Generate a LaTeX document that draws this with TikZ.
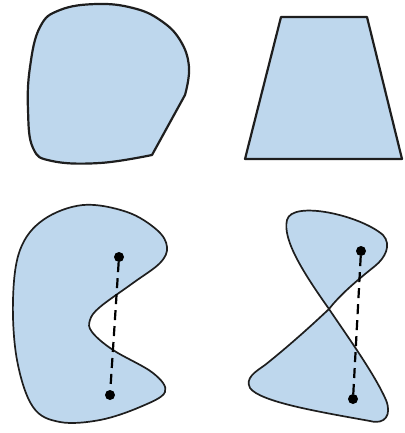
\documentclass[tikz,border=0pt]{standalone}
\usepackage{tikz}
\usetikzlibrary{positioning}

\definecolor{regionblue}{RGB}{190,215,237}
\definecolor{edgegray}{RGB}{30,30,30}

\begin{document}
\begin{tikzpicture}[
    x=1pt, y=-1pt,
    region/.style={fill=regionblue, draw=edgegray, line width=1.7pt, line join=round},
    thickregion/.style={region, line width=2.2pt},
    dot/.style={circle, fill=black, inner sep=0pt, minimum size=10pt},
    chord/.style={dash pattern=on 10pt off 6pt, line width=2.2pt, black}
]
\useasboundingbox (0,0) rectangle (404,433);

% Convex regions
\draw[thickregion] plot[smooth, tension=0.7] coordinates {(152,155) (100,163) (52,161) (33,148) (28,110) (30,67) (40,27) (60,10) (97,4) (133,8) (160,20) (180,40) (189,67) (185,95)} -- cycle;
\draw[thickregion] (281,17) -- (367,17) -- (402,159) -- (245,159) -- cycle;

% Non-convex regions
\draw[region] plot[smooth cycle, tension=0.6] coordinates {(83,205) (43,220) (20,250) (13,300) (17,360) (33,407) (60,422) (100,420) (140,407) (165,392) (153,373) (113,350) (92,332) (90,320) (100,307) (133,283) (160,263) (167,247) (157,230) (127,212)};
\draw[region] (329,309) .. controls (305,275) and (282,240) .. (287,220)
    .. controls (292,200) and (360,215) .. (383,235)
    .. controls (392,245) and (385,258) .. (375,266)
    .. controls (355,282) and (340,295) .. (329,309)
    .. controls (350,340) and (375,375) .. (386,400)
    .. controls (392,415) and (385,425) .. (370,421)
    .. controls (320,412) and (260,402) .. (250,388)
    .. controls (245,378) and (255,372) .. (265,365)
    .. controls (290,345) and (312,325) .. (329,309);

% Chords between points
\node[dot] (p1) at (119,257) {};
\node[dot] (p2) at (110,395) {};
\node[dot] (q1) at (361,251) {};
\node[dot] (q2) at (353,399) {};
\draw[chord] (p1) -- (p2);
\draw[chord] (q1) -- (q2);

\end{tikzpicture}
\end{document}
